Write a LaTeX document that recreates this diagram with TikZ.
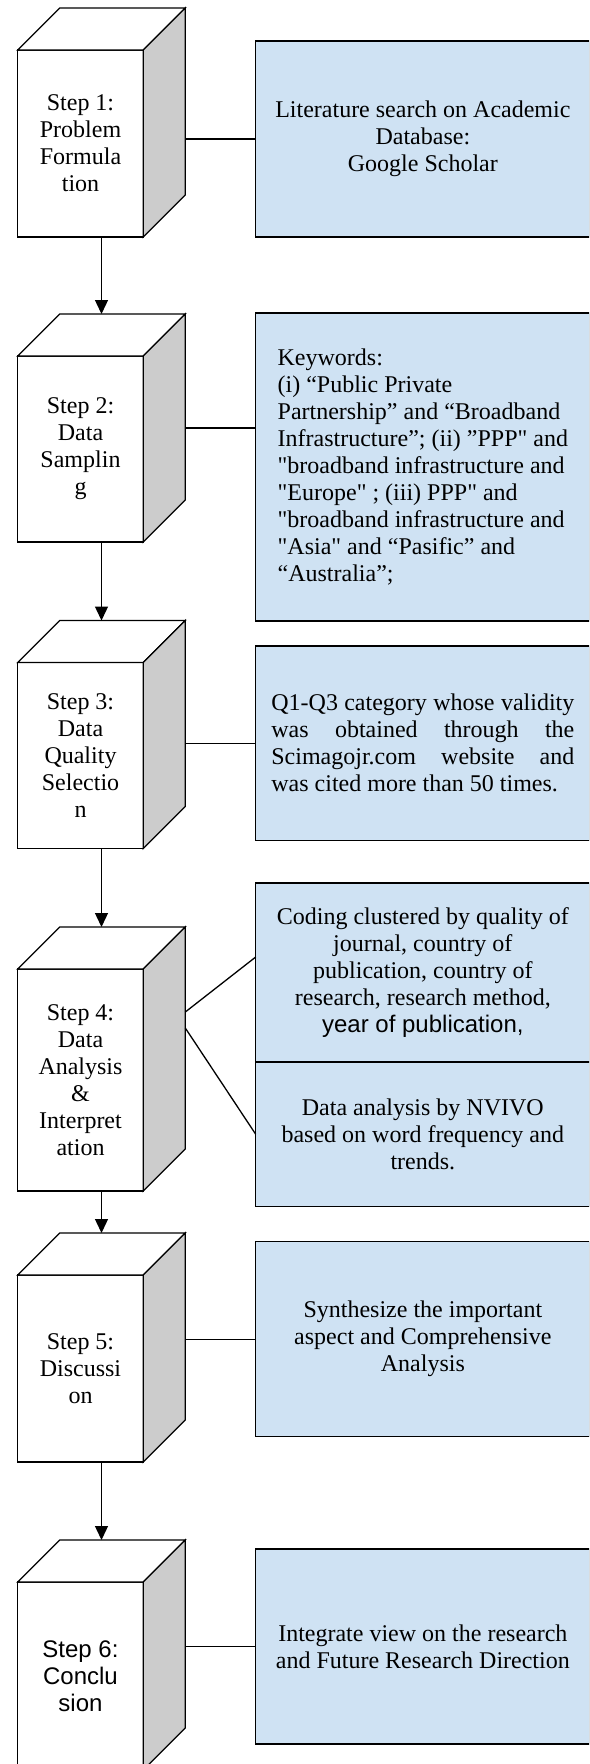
\documentclass[tikz,border=0pt]{standalone}
\usepackage{fontspec}
\newfontfamily\timesfont{Liberation Serif}
\newfontfamily\arialfont{Liberation Sans}
\usepackage{tikz}
\usetikzlibrary{calc,arrows.meta}
\definecolor{stepBlue}{HTML}{CFE2F3}
\definecolor{stepGray}{HTML}{CCCCCC}

\begin{document}
\begin{tikzpicture}[x=1pt, y=-1pt, line width=1.3pt,
    every node/.style={align=center, font=\timesfont\fontsize{24}{27}\selectfont},
    cubefront/.style={draw, fill=white, inner sep=0pt, outer sep=0pt, minimum width=125.6pt},
    infobox/.style={draw, fill=stepBlue, inner sep=0pt, outer sep=0pt, minimum width=334.3pt, anchor=north west},
    arr/.style={-{Triangle[length=14pt,width=13pt]}}]
  \path[use as bounding box, clip] (0,0) rectangle (589,1764);
  % step cubes
  \foreach \i/\y/\h/\t in {
      1/143.5/187/Step 1:\\ Problem\\ Formula\\ tion,
      2/449/186/Step 2:\\ Data\\ Samplin\\ g,
      3/755.5/186/Step 3:\\ Data\\ Quality\\ Selectio\\ n,
      4/1080/222/Step 4:\\ Data\\ Analysis\\ \&\\ Interpret\\ ation,
      5/1368.5/187/Step 5:\\ Discussi\\ on,
      6/1676/188/\arialfont Step 6:\\ \arialfont Conclu\\ \arialfont sion} {
    \node[cubefront, minimum height=\h pt] (s\i) at (80.5,\y) {\t};
    \draw[fill=white] (s\i.north west) -- ++(42,-42) -- ++(125.6,0) -- (s\i.north east) -- cycle;
    \draw[fill=stepGray] (s\i.north east) -- ++(42,-42) -- ++(0,\h) -- (s\i.south east) -- cycle;
    \coordinate (s\i-in) at ($(s\i.north)+(21,-42)$);
    \coordinate (s\i-out) at ($(s\i.south)+(21,0)$);
    \coordinate (s\i-side) at ($(s\i.east)+(42,0)$);
  }
  \foreach \a/\b in {1/2,2/3,3/4,4/5,5/6}
    \draw[arr] (s\a-out) -- (s\b-in);

  % detail boxes
  \node[infobox, minimum height=196pt] (b1) at (255.7,41)
    {Literature search on Academic\\ Database:\\ Google Scholar};
  \node[infobox, minimum height=308pt, align=left] (b2) at (255.7,313)
    {Keywords:\\ (i) “Public Private\\ Partnership” and “Broadband\\ Infrastructure”; (ii) ”PPP" and\\ "broadband infrastructure and\\ "Europe" ; (iii) PPP" and\\ "broadband infrastructure and\\ "Asia" and “Pasific” and\\ “Australia”;};
  \node[infobox, minimum height=194.5pt, text width=303pt, align=justify] (b3) at (255.7,646)
    {Q1-Q3 category whose validity\linebreak was obtained through the\linebreak Scimagojr.com website and\linebreak was cited more than 50 times.};
  \node[infobox, minimum height=179pt] (b4a) at (255.7,883)
    {Coding clustered by quality of\\ journal, country of\\ publication, country of\\ research, research method,\\ {\arialfont year of publication,}};
  \node[infobox, minimum height=144.5pt] (b4b) at (255.7,1062)
    {Data analysis by NVIVO\\ based on word frequency and\\ trends.};
  \node[infobox, minimum height=195pt] (b5) at (255.7,1241.7)
    {Synthesize the important\\ aspect and Comprehensive\\ Analysis};
  \node[infobox, minimum height=195pt] (b6) at (255.7,1549)
    {Integrate view on the research\\ and Future Research Direction};

  % links cube -> box
  \foreach \i in {1,3,5,6}
    \draw (s\i-side |- b\i.west) -- (b\i.west);
  \draw ($(s2-side |- b2.west)+(0,-39)$) -- ($(b2.west)+(0,-39)$);
  \draw ($(s4-side)+(0,-68)$) -- ($(b4a.west)+(0,-15.5)$);
  \draw ($(s4-side)+(0,-52)$) -- (b4b.west);
\end{tikzpicture}
\end{document}
